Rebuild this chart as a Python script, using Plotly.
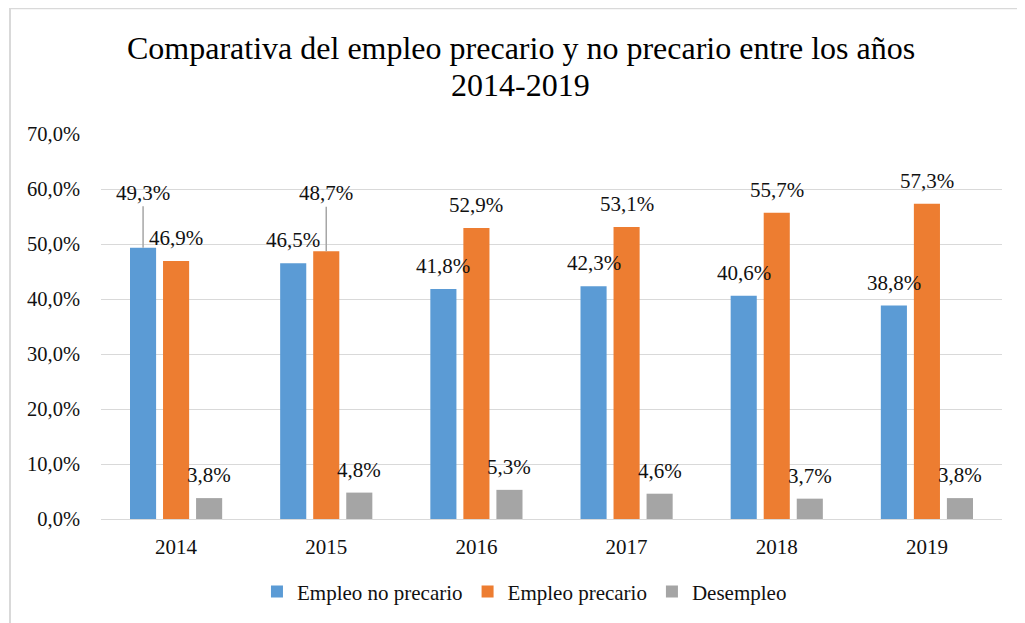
import plotly.graph_objects as go

years = ["2014", "2015", "2016", "2017", "2018", "2019"]
no_precario = [49.3, 46.5, 41.8, 42.3, 40.6, 38.8]
precario = [46.9, 48.7, 52.9, 53.1, 55.7, 57.3]
desempleo = [3.8, 4.8, 5.3, 4.6, 3.7, 3.8]

series = [
    ("Empleo no precario", no_precario, "#5B9BD5"),
    ("Empleo precario", precario, "#ED7D31"),
    ("Desempleo", desempleo, "#A5A5A5"),
]

# pixel offset of each series' bar within its year group
bar_shift = [-33, 0, 33]
# labels lifted with a leader line: (series, year index) -> lift in px
leader_labels = {(0, 0): 55, (1, 1): 58}

FONT = "Liberation Serif, Times New Roman, serif"
TXT = "#111111"

fig = go.Figure()
for name, vals, color in series:
    fig.add_trace(go.Bar(
        x=years, y=[v / 100 for v in vals], name=name,
        marker=dict(color=color, line=dict(width=0)),
    ))

annotations = []
for s, (name, vals, color) in enumerate(series):
    for i, v in enumerate(vals):
        txt = f"{v:.1f}%".replace(".", ",")
        if (s, i) in leader_labels:
            annotations.append(dict(
                x=i, y=v / 100, xref="x", yref="y",
                xshift=bar_shift[s], text=txt, showarrow=True,
                arrowhead=0, arrowwidth=1.5, arrowcolor="#A6A6A6",
                ax=0, ay=-leader_labels[(s, i)], standoff=0,
                font=dict(family=FONT, size=21, color=TXT),
            ))
        else:
            annotations.append(dict(
                x=i, y=v / 100, xref="x", yref="y",
                xshift=bar_shift[s], yshift=23, text=txt,
                showarrow=False,
                font=dict(family=FONT, size=21, color=TXT),
            ))

title_lines = ["Comparativa del empleo precario y no precario entre los años", "2014-2019"]
for ty, line in zip([1.2228, 1.127], title_lines):
    annotations.append(dict(
        x=0.466, y=ty, xref="paper", yref="paper", showarrow=False,
        text=line, font=dict(family=FONT, size=32, color="#000000"),
        xanchor="center", yanchor="middle",
    ))

fig.update_layout(
    width=1017, height=615,
    margin=dict(l=93, r=23, t=126, b=103),
    paper_bgcolor="white", plot_bgcolor="white",
    separators=",.",
    barmode="group", bargap=0.34, bargroupgap=0.21,
    font=dict(family=FONT, size=21, color=TXT),
    annotations=annotations,
    showlegend=True,
    legend=dict(orientation="h", x=0.47, xanchor="center", y=-0.186,
                yanchor="middle", font=dict(family=FONT, size=21, color=TXT),
                itemwidth=30, traceorder="normal"),
    shapes=[dict(type="rect", xref="paper", yref="paper",
                 x0=-0.101, x1=1.2, y0=-0.5, y1=1.3264,
                 line=dict(color="#D9D9D9", width=2))],
)
fig.update_yaxes(range=[0, 0.7], dtick=0.1, tickformat=".1%",
                 tickfont=dict(size=20.5),
                 gridcolor="#D9D9D9", gridwidth=1, zeroline=False,
                 ticklabelstandoff=20, showline=False)
fig.update_xaxes(type="category", range=[-0.5, len(years) - 0.5],
                 showline=True, linecolor="#D9D9D9", linewidth=1,
                 ticks="", ticklabelstandoff=9)

fig.write_html("out.html")
